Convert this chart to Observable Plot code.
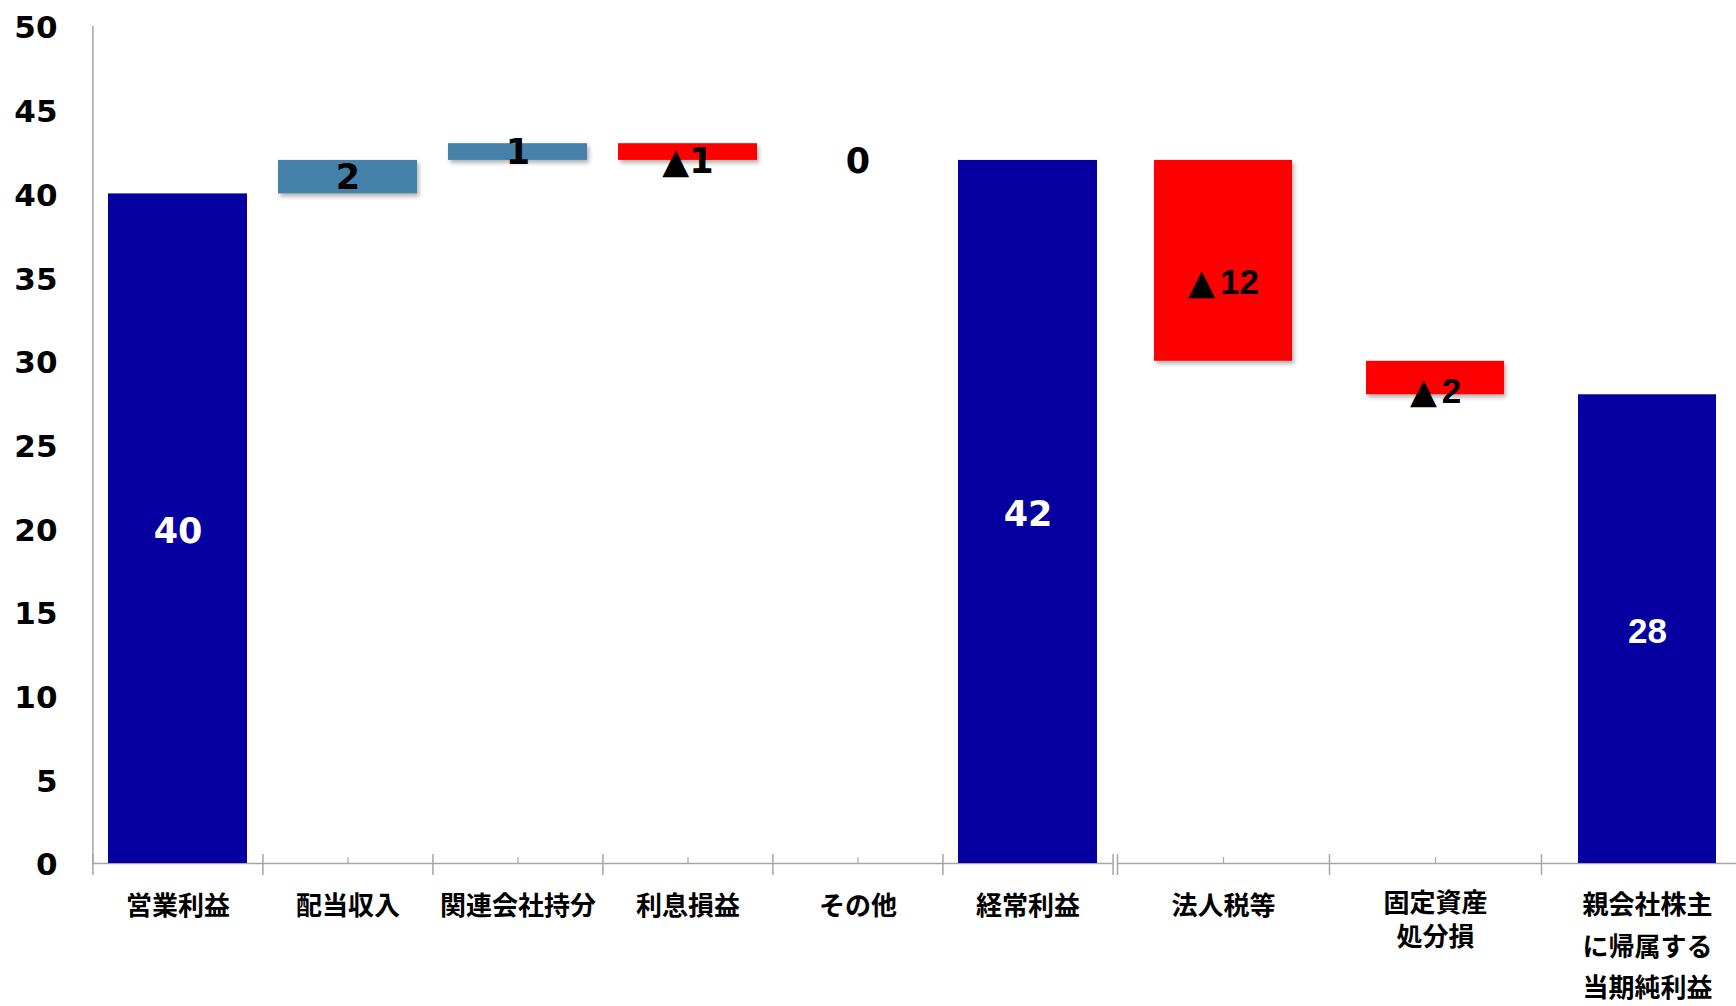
<!DOCTYPE html>
<html><head><meta charset="utf-8">
<script src="https://cdn.jsdelivr.net/npm/d3@7"></script>
<script src="https://cdn.jsdelivr.net/npm/@observablehq/plot@0.6"></script>
<style>
@font-face { font-family: "TriMark"; src: local("DejaVu Sans Bold"), local("DejaVuSans-Bold"); font-weight: 700; unicode-range: U+25B2; }
@font-face { font-family: "TriMark"; src: local("DejaVu Sans Bold"), local("DejaVuSans-Bold"); font-weight: 400; unicode-range: U+25B2; }
html,body{margin:0;padding:0;background:#fff;overflow:hidden;}
#wrap{position:relative;width:1736px;height:1006px;overflow:hidden;}
#wrap svg{position:absolute;top:0;max-width:none;overflow:visible;}
</style></head><body><div id="wrap"></div>
<script>
// ---- data ----
const categories = ["営業利益","配当収入","関連会社持分","利息損益","その他","経常利益","法人税等","固定資産\n処分損","親会社株主\nに帰属する\n当期純利益"];
const values = [40, 2, 1, -1, 0, 42, -12, -2, 28];
const kinds = ["total","delta","delta","delta","delta","total","delta","delta","total"];
const yTicks = [0, 5, 10, 15, 20, 25, 30, 35, 40, 45, 50];
const leftCount = 6; // categories drawn in the left panel

// ---- derived waterfall rows ----
let running = 0;
const rows = categories.map((cat, i) => {
  const v = values[i], k = kinds[i];
  let lo, hi;
  if (k === "total") { lo = 0; hi = v; running = v; }
  else { lo = running; hi = running + v; running += v; }
  const y1 = Math.min(lo, hi), y2 = Math.max(lo, hi);
  let labelY;
  if (k === "total" || v > 0) labelY = (y1 + y2) / 2;
  else if (v === 0) labelY = y1;
  else labelY = y1 + 0.45 * (y2 - y1);
  return {cat, value: v, kind: k, y1, y2, labelY,
          label: v < 0 ? "▲" + Math.abs(v) : String(v), idx: i};
});

const H = 1006, MT = 26, MB = 143;
const ppu = (H - MT - MB) / 50;
const totalColor = "#0600a0", posColor = "#4481a9", negColor = "#ff0303", axisGray = "#a6a6a6";
const catFont = "'Noto Sans CJK JP', 'Noto Sans CJK SC', sans-serif";

function panel(data, o) {
  const cats = data.map(d => d.cat);
  const n = cats.length;
  const step = (o.width - o.ml - o.mr) / n;
  const last = cats[n - 1];
  const marks = [
    Plot.ruleY([0], {stroke: axisGray, strokeWidth: 1.5}),
    Plot.ruleX(cats, {x: d => d, y1: -12 / ppu, y2: 9 / ppu, dx: -step / 2, stroke: axisGray, strokeWidth: 1.5}),
    Plot.ruleX([last], {x: d => d, y1: -12 / ppu, y2: 9 / ppu, dx: step / 2, stroke: axisGray, strokeWidth: 1.5}),
    Plot.ruleX(cats, {x: d => d, y1: 0, y2: 6 / ppu, stroke: axisGray, strokeWidth: 1.2}),
    Plot.barY(data.filter(d => d.kind === "total"), {x: "cat", y1: "y1", y2: "y2", fill: totalColor}),
    Plot.barY(data.filter(d => d.kind === "delta" && d.value > 0), {x: "cat", y1: "y1", y2: "y2", fill: posColor}),
    Plot.barY(data.filter(d => d.kind === "delta" && d.value < 0), {x: "cat", y1: "y1", y2: "y2", fill: negColor}),
    Plot.text(data.filter(d => d.kind === "total"), {x: "cat", y: "labelY", text: "label", fill: "white",
      fontSize: o.labelSize, fontWeight: "bold", fontFamily: o.font, dy: 3}),
    Plot.text(data.filter(d => d.kind === "delta" && d.value >= 0), {x: "cat", y: "labelY", text: "label", fill: "black",
      fontSize: o.labelSize, fontWeight: "bold", fontFamily: o.font, dy: 1}),
    Plot.text(data.filter(d => d.kind === "delta" && d.value < 0), {x: "cat", y: "labelY", text: "label", fill: "black",
      fontSize: o.labelSize, fontWeight: "bold", fontFamily: o.negFont, dy: o.negDy})
  ];
  for (const ax of o.xAxes) {
    marks.push(Plot.axisX({ticks: ax.ticks, tickSize: 0, tickPadding: ax.pad, lineHeight: ax.lh,
      fontSize: 26, fontWeight: "bold", fontFamily: catFont, fill: "black", label: null}));
  }
  if (o.showY) {
    marks.push(Plot.ruleX([cats[0]], {x: d => d, y1: 0, y2: 50, dx: -step / 2, stroke: axisGray, strokeWidth: 1.5}));
    marks.push(Plot.axisY({ticks: yTicks, tickSize: 0, tickPadding: 35, fontSize: 31, fontWeight: "bold",
      fontFamily: "'DejaVu Sans', Verdana, sans-serif", fill: "black", label: null, dy: 2}));
  } else {
    marks.push(Plot.axisY({ticks: [], label: null, tickSize: 0}));
  }
  const svg = Plot.plot({
    width: o.width, height: H,
    marginLeft: o.ml, marginRight: o.mr, marginTop: MT, marginBottom: MB,
    x: {type: "band", domain: cats, paddingInner: o.pad, paddingOuter: o.pad / 2, align: 0.5},
    y: {domain: [0, 50]},
    style: {fontFamily: o.font, color: "black", background: "transparent", maxWidth: "none"},
    marks
  });
  svg.style.left = o.left + "px";
  // subtle drop shadow on the increment/decrement bars
  const ns = "http://www.w3.org/2000/svg";
  const defs = document.createElementNS(ns, "defs");
  const fid = "shadow" + o.left;
  defs.innerHTML = `<filter id="${fid}" x="-10%" y="-20%" width="130%" height="160%"><feDropShadow dx="2" dy="3" stdDeviation="2" flood-color="#000" flood-opacity="0.3"/></filter>`;
  svg.insertBefore(defs, svg.firstChild);
  svg.querySelectorAll("g").forEach(g => {
    const f = g.getAttribute("fill");
    if (f === posColor || f === negColor) g.setAttribute("filter", `url(#${fid})`);
  });
  // small gap after the ▲ marker (only the marker gets extra spacing)
  if (o.negSpacing) {
    svg.querySelectorAll("text").forEach(t => {
      const s = t.textContent;
      if (s.startsWith("▲") && t.children.length === 0) {
        t.textContent = "";
        const tri = document.createElementNS(ns, "tspan");
        tri.textContent = "▲";
        tri.setAttribute("letter-spacing", o.negSpacing);
        t.appendChild(tri);
        t.appendChild(document.createTextNode(s.slice(1)));
      }
    });
  }
  return svg;
}

const leftRows = rows.filter(d => d.idx < leftCount);
const rightRows = rows.filter(d => d.idx >= leftCount);
const wrap = document.getElementById("wrap");
wrap.appendChild(panel(leftRows, {
  width: 1115, ml: 92, mr: 2, left: 0, pad: 0.18, showY: true, labelSize: 35, negDy: 9,
  font: "'DejaVu Sans', Verdana, sans-serif",
  negFont: "'DejaVu Sans', Verdana, sans-serif",
  xAxes: [{ticks: leftRows.map(d => d.cat), pad: 33, lh: 1}]
}));
wrap.appendChild(panel(rightRows, {
  width: 640, ml: 2, mr: 2, left: 1115, pad: 0.35, showY: false, labelSize: 35, negDy: 12,
  font: "'Liberation Sans', Arial, sans-serif",
  negFont: "TriMark, 'Liberation Sans', Arial, sans-serif",
  negSpacing: 5,
  xAxes: [
    {ticks: [rightRows[0].cat], pad: 33, lh: 1},
    {ticks: [rightRows[1].cat], pad: 25, lh: 1.29},
    {ticks: [rightRows[2].cat], pad: 21, lh: 1.6}
  ]
}));
</script>
</body></html>
